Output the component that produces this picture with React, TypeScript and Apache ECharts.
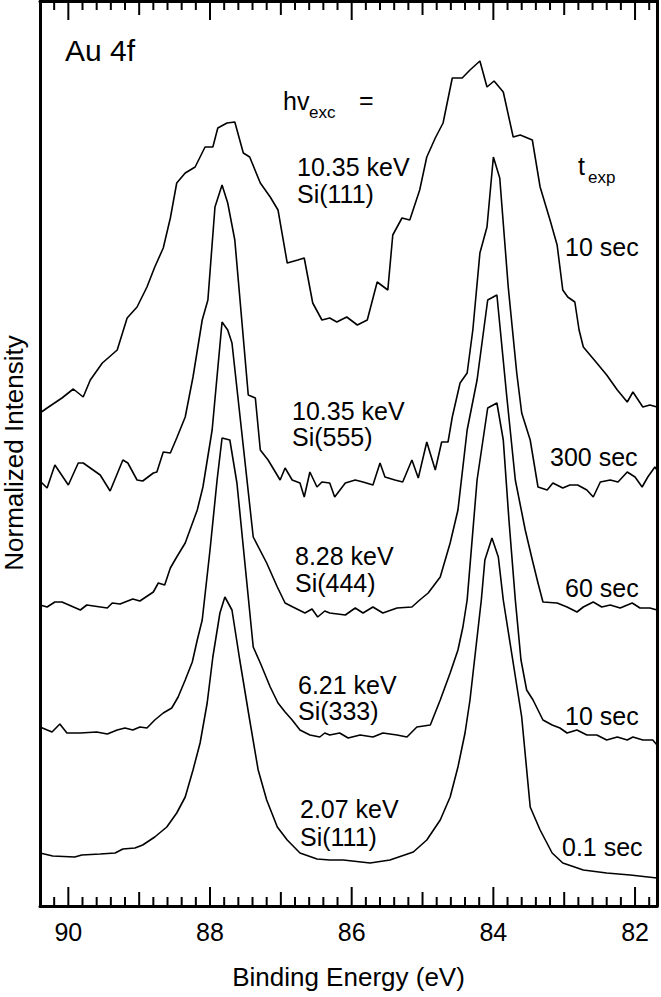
import React, { useEffect, useRef } from "react";
import * as echarts from "echarts";

const FONT = '"Liberation Sans", Arial, Helvetica, sans-serif';

// Binding-energy range of the frame (eV), reversed axis
const X_MIN = 81.69;
const X_MAX = 90.4;
// Normalized intensity range (arbitrary units, curves are stacked with offsets)
const Y_MIN = 0;
const Y_MAX = 905;

const xTickLabels = ["82", "84", "86", "88", "90"];

// 10.35 keV, Si(111), 10 sec
const spec1035_111: number[][] = [
  [90.4, 493], [90.3, 498], [90.09, 508], [89.93, 517], [89.79, 509], [89.69, 526], [89.52, 543],
  [89.31, 556], [89.17, 588], [89.03, 599], [88.89, 619], [88.78, 639], [88.66, 658], [88.56, 688],
  [88.47, 723], [88.35, 733], [88.21, 739], [88.07, 759], [87.96, 759], [87.89, 778], [87.76, 783],
  [87.65, 784], [87.53, 753], [87.44, 749], [87.29, 723], [87.15, 709], [87.04, 696], [86.91, 643],
  [86.76, 646], [86.67, 648], [86.55, 603], [86.42, 586], [86.31, 588], [86.21, 584], [86.07, 589],
  [85.92, 581], [85.78, 586], [85.64, 624], [85.49, 616], [85.42, 671], [85.29, 688], [85.18, 686],
  [85.04, 716], [84.94, 749], [84.82, 768], [84.71, 783], [84.58, 828], [84.44, 828], [84.33, 836],
  [84.19, 845], [84.09, 819], [83.99, 825], [83.86, 814], [83.72, 769], [83.62, 771], [83.45, 766],
  [83.34, 719], [83.2, 686], [83.1, 661], [83.02, 616], [82.95, 609], [82.85, 604], [82.79, 576],
  [82.73, 559], [82.54, 543], [82.4, 531], [82.25, 516], [82.11, 504], [82.03, 514], [81.89, 499],
  [81.79, 501], [81.69, 499],
];

// 10.35 keV, Si(555), 300 sec
const spec1035_555: number[][] = [
  [90.4, 425], [90.3, 418], [90.19, 441], [90.0, 421], [89.86, 443], [89.79, 443], [89.69, 438],
  [89.55, 431], [89.41, 415], [89.23, 446], [89.16, 443], [89.03, 426], [88.95, 425], [88.8, 433],
  [88.75, 434], [88.66, 454], [88.56, 453], [88.47, 468], [88.35, 489], [88.24, 529], [88.11, 586],
  [88.03, 606], [87.93, 699], [87.83, 721], [87.75, 703], [87.65, 666], [87.46, 511], [87.36, 508],
  [87.29, 456], [87.18, 446], [87.01, 426], [86.94, 438], [86.84, 426], [86.73, 423], [86.67, 409],
  [86.59, 434], [86.49, 419], [86.42, 424], [86.31, 423], [86.24, 409], [86.09, 423], [85.95, 426],
  [85.84, 424], [85.7, 421], [85.6, 443], [85.53, 429], [85.39, 426], [85.28, 424], [85.15, 446],
  [85.06, 428], [84.94, 464], [84.82, 436], [84.73, 464], [84.64, 464], [84.58, 489], [84.47, 523],
  [84.37, 533], [84.29, 576], [84.19, 653], [84.09, 679], [84.0, 749], [83.91, 728], [83.79, 619],
  [83.67, 533], [83.6, 493], [83.48, 466], [83.37, 419], [83.24, 416], [83.16, 423], [83.02, 418],
  [82.92, 421], [82.81, 421], [82.68, 416], [82.59, 409], [82.49, 424], [82.35, 426], [82.24, 424],
  [82.11, 434], [82.0, 429], [81.9, 419], [81.82, 429], [81.72, 439], [81.69, 436],
];

// 8.28 keV, Si(444), 60 sec
const spec828_444: number[][] = [
  [90.4, 301], [90.3, 299], [90.19, 304], [90.09, 304], [89.83, 296], [89.74, 301], [89.45, 298],
  [89.38, 303], [89.27, 302], [89.09, 307], [88.99, 305], [88.8, 314], [88.73, 323], [88.64, 321],
  [88.56, 338], [88.47, 349], [88.35, 363], [88.18, 396], [88.1, 419], [87.97, 476], [87.83, 584],
  [87.75, 576], [87.69, 563], [87.39, 369], [87.2, 343], [87.05, 319], [86.94, 303], [86.83, 299],
  [86.66, 293], [86.56, 297], [86.48, 289], [86.38, 295], [86.31, 293], [86.09, 291], [85.95, 298],
  [85.84, 293], [85.7, 299], [85.56, 293], [85.36, 298], [85.15, 299], [85.04, 306], [84.92, 313],
  [84.75, 329], [84.61, 363], [84.5, 396], [84.37, 476], [84.23, 526], [84.08, 606], [83.95, 611],
  [83.81, 509], [83.69, 426], [83.55, 376], [83.45, 346], [83.37, 323], [83.3, 304], [83.1, 303],
  [82.96, 299], [82.82, 294], [82.73, 299], [82.59, 304], [82.47, 299], [82.35, 301], [82.21, 298],
  [82.04, 303], [81.93, 298], [81.79, 298], [81.69, 296],
];

// 6.21 keV, Si(333), 10 sec
const spec621_333: number[][] = [
  [90.4, 179], [90.23, 174], [90.12, 182], [90.02, 173], [89.83, 173], [89.6, 174], [89.45, 172],
  [89.31, 176], [89.2, 178], [89.09, 176], [88.99, 179], [88.89, 178], [88.78, 186], [88.66, 193],
  [88.54, 198], [88.45, 209], [88.35, 226], [88.25, 244], [88.18, 266], [88.11, 286], [88.0, 356],
  [87.9, 426], [87.83, 468], [87.72, 466], [87.62, 423], [87.39, 259], [87.29, 243], [87.15, 219],
  [87.04, 203], [86.94, 194], [86.84, 186], [86.73, 176], [86.59, 171], [86.45, 169], [86.38, 173],
  [86.31, 171], [86.17, 173], [86.05, 168], [85.88, 171], [85.7, 169], [85.56, 173], [85.36, 171],
  [85.22, 169], [85.08, 179], [84.89, 181], [84.75, 206], [84.61, 233], [84.5, 256], [84.43, 279],
  [84.37, 306], [84.23, 426], [84.08, 498], [83.95, 503], [83.86, 466], [83.78, 386], [83.69, 306],
  [83.61, 246], [83.53, 216], [83.44, 206], [83.3, 186], [83.17, 181], [83.06, 178], [82.96, 173],
  [82.82, 176], [82.68, 171], [82.54, 171], [82.4, 166], [82.25, 169], [82.11, 166], [82.03, 169],
  [81.89, 166], [81.75, 166], [81.69, 161],
];

// 2.07 keV, Si(111), 0.1 sec
const spec207_111: number[][] = [
  [90.4, 53], [90.22, 50], [89.91, 49], [89.81, 51], [89.55, 52], [89.34, 53], [89.23, 57],
  [89.06, 58], [88.95, 61], [88.78, 69], [88.61, 79], [88.47, 93], [88.35, 109], [88.24, 136],
  [88.14, 163], [88.04, 203], [87.96, 249], [87.86, 293], [87.79, 309], [87.69, 296], [87.58, 246],
  [87.44, 186], [87.32, 136], [87.2, 106], [87.05, 79], [86.91, 66], [86.73, 53], [86.49, 47],
  [86.31, 46], [86.12, 46], [85.74, 43], [85.46, 46], [85.13, 54], [84.94, 66], [84.75, 86],
  [84.61, 109], [84.5, 139], [84.4, 173], [84.33, 206], [84.17, 306], [84.12, 346], [84.02, 368],
  [83.93, 349], [83.86, 306], [83.6, 189], [83.48, 99], [83.34, 76], [83.17, 53], [83.02, 43],
  [82.73, 36], [82.4, 33], [82.07, 31], [81.69, 28],
];

const spectra = [spec1035_111, spec1035_555, spec828_444, spec621_333, spec207_111];

// Tick marks every 0.2 eV on bottom and top frame edges (long at even eV, medium at odd eV)
const tickStep = 0.2;
const tickFirst = 81.8;
const tickCount = 44;

// Annotations: [text, left x, center y, font size]
const annotations: [string, number, number, number][] = [
  ["Au 4f", 65, 50, 30],
  ["hv", 283, 101, 25],
  ["exc", 309, 112, 17],
  ["=", 359, 100, 25],
  ["10.35 keV", 297, 167, 25],
  ["Si(111)", 297, 194, 25],
  ["t", 578, 166, 25],
  ["exp", 588, 177, 17],
  ["10 sec", 565, 247, 25],
  ["10.35 keV", 292, 411, 25],
  ["Si(555)", 292, 437, 25],
  ["300 sec", 550, 457, 25],
  ["8.28 keV", 295, 556, 25],
  ["Si(444)", 295, 583, 25],
  ["60 sec", 565, 588, 25],
  ["6.21 keV", 298, 685, 25],
  ["Si(333)", 298, 711, 25],
  ["10 sec", 565, 716, 25],
  ["2.07 keV", 300, 809, 25],
  ["Si(111)", 300, 837, 25],
  ["0.1 sec", 562, 847, 25],
];

export default function App() {
  const ref = useRef<HTMLDivElement>(null);
  useEffect(() => {
    if (!ref.current) return;
    const chart = echarts.init(ref.current, null, { renderer: "svg" });
    const black = "#000";
    const frameLine = { show: true, onZero: false, lineStyle: { color: black, width: 3 } };

    const tickData: number[][] = [];
    for (let i = 0; i < tickCount; i++) {
      const v = Math.round((tickFirst + i * tickStep) * 10) / 10;
      if (v > X_MAX) break;
      const isInt = Math.abs(v - Math.round(v)) < 1e-6;
      const len = isInt ? (Math.round(v) % 2 === 0 ? 19 : 14) : 9;
      tickData.push([v, len]);
    }

    const option: any = {
      animation: false,
      backgroundColor: "#fff",
      grid: { left: 40, right: 4, top: 1, bottom: 91, containLabel: false },
      xAxis: [
        {
          type: "value",
          position: "bottom",
          min: X_MIN,
          max: X_MAX,
          inverse: true,
          minInterval: 2,
          maxInterval: 2,
          splitLine: { show: false },
          axisLine: frameLine,
          axisTick: { show: false },
          axisLabel: {
            show: true,
            fontSize: 25,
            color: black,
            fontFamily: FONT,
            margin: 13,
            showMinLabel: false,
            showMaxLabel: false,
            formatter: (v: number) => {
              const s = String(Math.round(v));
              return Math.abs(v - Math.round(v)) < 1e-6 && xTickLabels.includes(s) ? s : "";
            },
          },
          name: "Binding Energy (eV)",
          nameLocation: "middle",
          nameGap: 58,
          nameTextStyle: { fontSize: 26, color: black, fontFamily: FONT },
        },
        {
          type: "value",
          position: "top",
          min: X_MIN,
          max: X_MAX,
          inverse: true,
          splitLine: { show: false },
          axisLine: frameLine,
          axisTick: { show: false },
          axisLabel: { show: false },
        },
      ],
      yAxis: [
        {
          type: "value",
          min: Y_MIN,
          max: Y_MAX,
          position: "left",
          axisLine: frameLine,
          axisTick: { show: false },
          axisLabel: { show: false },
          splitLine: { show: false },
        },
        {
          type: "value",
          min: Y_MIN,
          max: Y_MAX,
          position: "right",
          axisLine: frameLine,
          axisTick: { show: false },
          axisLabel: { show: false },
          splitLine: { show: false },
        },
      ],
      series: [
        ...spectra.map((d) => ({
          type: "line",
          xAxisIndex: 0,
          yAxisIndex: 0,
          data: d,
          showSymbol: false,
          symbol: "none",
          silent: true,
          lineStyle: { color: black, width: 1.6 },
        })),
        {
          type: "custom",
          xAxisIndex: 0,
          yAxisIndex: 0,
          silent: true,
          clip: false,
          data: tickData,
          renderItem: (_params: any, api: any) => {
            const v = api.value(0);
            const len = api.value(1);
            const b = api.coord([v, Y_MIN]);
            const t = api.coord([v, Y_MAX]);
            return {
              type: "group",
              children: [
                {
                  type: "line",
                  shape: { x1: b[0], y1: b[1], x2: b[0], y2: b[1] - len },
                  style: { stroke: black, lineWidth: 2 },
                },
                {
                  type: "line",
                  shape: { x1: t[0], y1: t[1], x2: t[0], y2: t[1] + len },
                  style: { stroke: black, lineWidth: 2 },
                },
              ],
            };
          },
        },
      ],
      graphic: [
        {
          type: "text",
          x: 14,
          y: 453,
          rotation: Math.PI / 2,
          style: {
            text: "Normalized Intensity",
            fontSize: 26,
            fontFamily: FONT,
            fill: black,
            textAlign: "center",
            textVerticalAlign: "middle",
          },
        },
        ...annotations.map(([t, x, y, fs]) => ({
          type: "text",
          x,
          y,
          style: {
            text: t,
            fontSize: fs,
            fontFamily: FONT,
            fill: black,
            textAlign: "left",
            textVerticalAlign: "middle",
          },
        })),
      ],
    };
    chart.setOption(option);
    return () => chart.dispose();
  }, []);
  return (
    <div
      ref={ref}
      style={{ position: "fixed", left: 0, top: 0, width: 661, height: 997, background: "#fff" }}
    />
  );
}
